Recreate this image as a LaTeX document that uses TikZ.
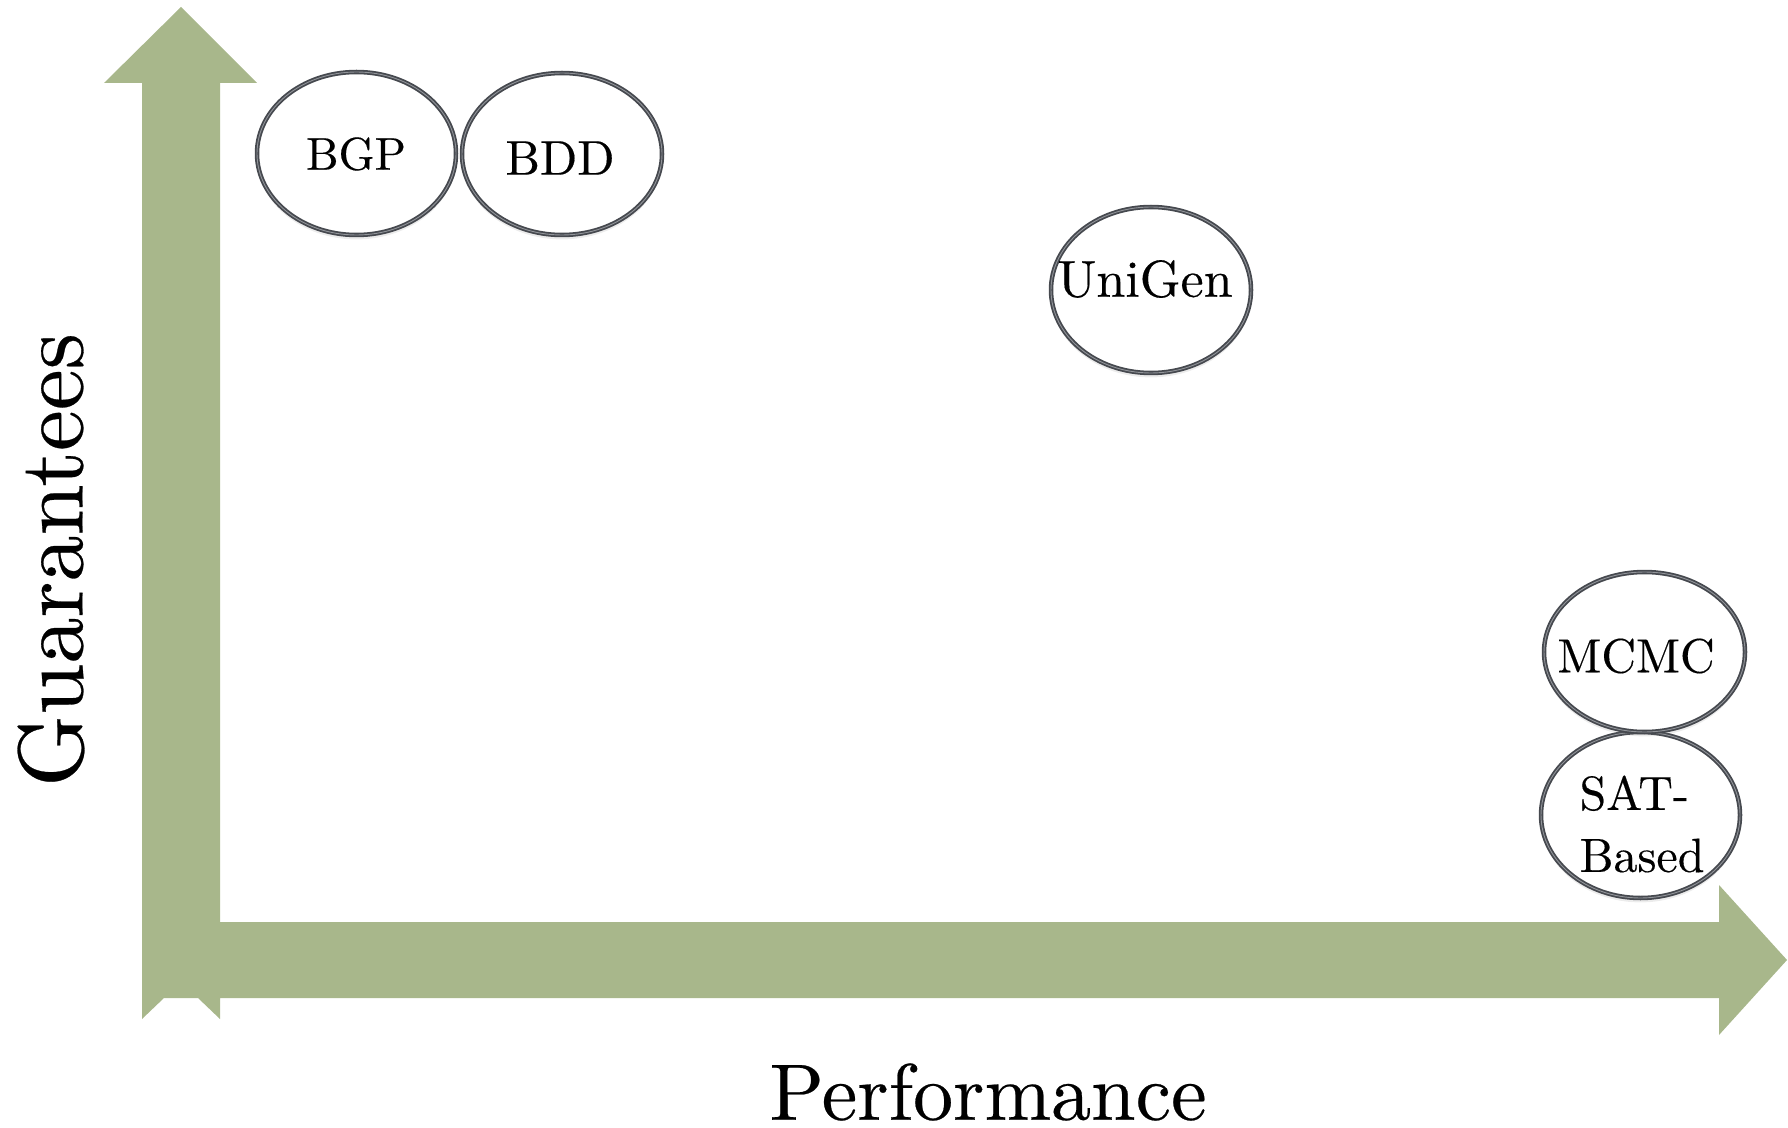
\documentclass[tikz,border=0pt]{standalone}
\usepackage{fontspec}
\setmainfont{lmroman10-regular.otf}[FakeBold=0.3]
\usetikzlibrary{shapes.geometric,shadows}
\definecolor{SmpGreen}{RGB}{168,183,139}
\definecolor{SmpRing}{RGB}{70,73,79}
\definecolor{SmpRingLight}{RGB}{145,148,153}
\tikzset{
  smp/axis/.style={
    fill=SmpGreen,
    draw=none
  },
  smp/method/.style={
    ellipse,
    draw=SmpRing,
    line width=0.9pt,
    double=SmpRingLight,
    double distance=0.45pt,
    fill=white,
    inner sep=0pt,
    drop shadow={opacity=0.15, shadow xshift=0pt, shadow yshift=-2.2pt}
  },
  smp/name/.style={
    inner sep=0pt,
    text=black
  },
  smp/axislabel/.style={
    inner sep=0pt,
    text=black
  }
}

\begin{document}
\begin{tikzpicture}[x=0.5pt,y=-0.5pt]
  \useasboundingbox (0,0) rectangle (1788,1128);
  \fill[smp/axis] (181,7) -- (257,83) -- (220,83) -- (220,922) -- (1719,922) -- (1719,885)
    -- (1787,960) -- (1719,1035) -- (1719,998) -- (220,998) -- (220,1019) -- (198,998)
    -- (164,998) -- (142,1019) -- (142,83) -- (104,83) -- cycle;
  \node[smp/method,minimum width=99.5pt,minimum height=81.5pt] (bgp) at (356.5,153.5) {};
  \node[smp/method,minimum width=100pt,minimum height=81pt] (bdd) at (562,154) {};
  \node[smp/method,minimum width=100pt,minimum height=83pt] (unigen) at (1151,290) {};
  \node[smp/method,minimum width=99.5pt,minimum height=83pt] (satbased) at (1640.5,815) {};
  \node[smp/method,minimum width=100.5pt,minimum height=80pt] (mcmc) at (1644.5,652) {};
  \node[smp/name,font=\fontsize{23}{27}\selectfont] (bgp-text) at (356,154) {BGP};
  \node[smp/name,font=\fontsize{24.4}{29}\selectfont] (bdd-text) at (560,158) {BDD};
  \node[smp/name,font=\fontsize{26}{31}\selectfont] (unigen-text) at (1145,279) {UniGen};
  \node[smp/name,font=\fontsize{24}{28}\selectfont] (mcmc-text) at (1636,656) {MCMC};
  \node[smp/name,font=\fontsize{24}{31}\selectfont,align=left] (satbased-text) at (1642,824) {SAT-\\Based};
  \node[smp/axislabel,font=\fontsize{46}{55}\selectfont,rotate=90] (guarantees) at (51,560) {Guarantees};
  \node[smp/axislabel,font=\fontsize{40}{48}\selectfont] (performance) at (988,1092) {Performance};
\end{tikzpicture}
\end{document}
